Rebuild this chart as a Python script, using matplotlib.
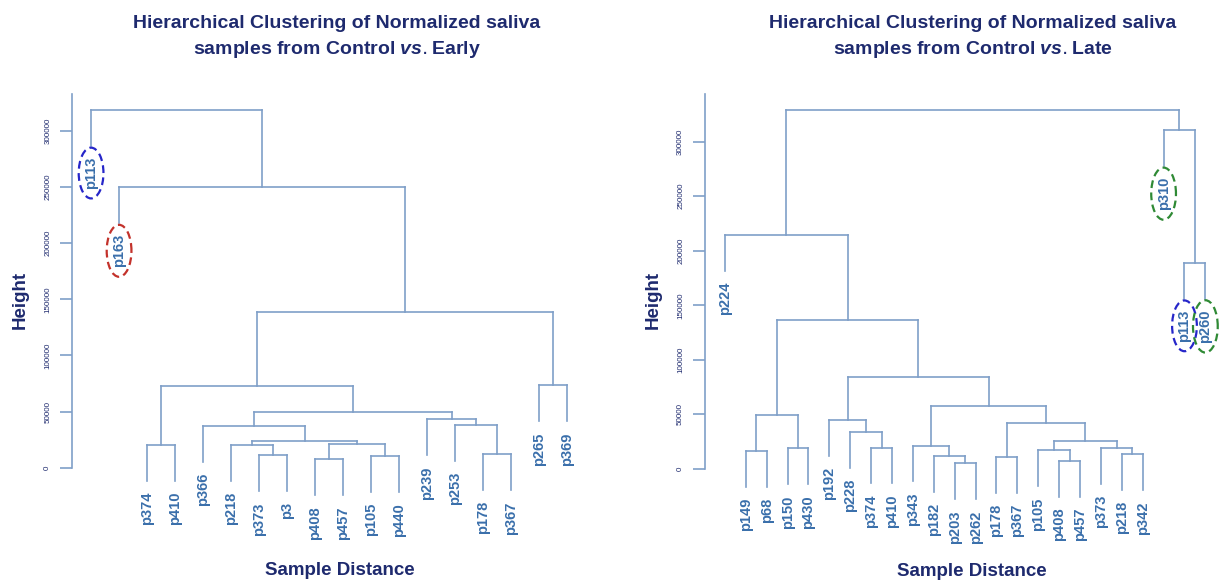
import matplotlib.pyplot as plt
import numpy as np

plt.rcParams['font.family'] = ['Liberation Sans', 'DejaVu Sans']
plt.rcParams['mathtext.fontset'] = 'custom'
plt.rcParams['mathtext.it'] = 'Liberation Sans:italic:bold'

LINE = '#7f9fc8'
LEAF = '#3a6fab'
NAVY = '#1e2a6e'

# --- Control vs. Early -------------------------------------------------
# leaves in plotting order; merge rows follow hclust: -k is leaf k, +k is row k
early_labels = ['p113', 'p163', 'p374', 'p410', 'p366', 'p218', 'p373', 'p3',
                'p408', 'p457', 'p105', 'p440', 'p239', 'p253', 'p178', 'p367',
                'p265', 'p369']
early_merge = [(-9, -10), (-11, -12), (-7, -8), (-15, -16), (-3, -4), (-6, 3),
               (1, 2), (6, 7), (-5, 8), (-14, 4), (-13, 10), (9, 11), (5, 12),
               (-17, -18), (13, 14), (-2, 15), (-1, 16)]
early_height = [7500, 10400, 11000, 11900, 20200, 20000, 21400, 24000, 37100,
                38000, 43100, 49600, 72800, 73400, 138500, 249800, 318700]
early_rings = {'p113': '#2626c9', 'p163': '#c3322b'}

# --- Control vs. Late --------------------------------------------------
late_labels = ['p224', 'p149', 'p68', 'p150', 'p430', 'p192', 'p228', 'p374',
               'p410', 'p343', 'p182', 'p203', 'p262', 'p178', 'p367', 'p105',
               'p408', 'p457', 'p373', 'p218', 'p342', 'p310', 'p113', 'p260']
late_merge = [(-12, -13), (-17, -18), (-14, -15), (-11, 1), (-20, -21), (-2, -3),
              (-16, 2), (-4, -5), (-19, 5), (-8, -9), (-10, 4), (7, 9), (-7, 10),
              (3, 12), (-6, 13), (6, 8), (11, 14), (15, 17), (16, 18),
              (-23, -24), (-1, 19), (-22, 20), (21, 22)]
late_height = [5200, 7600, 11300, 12200, 13500, 16800, 17100, 19000, 19500,
               19600, 21400, 25700, 34200, 41900, 44900, 49500, 57700, 84000,
               136600, 189100, 214500, 310700, 329000]
late_rings = {'p310': '#2f8a35', 'p113': '#2626c9', 'p260': '#2f8a35'}

yticks = [0, 50000, 100000, 150000, 200000, 250000, 300000]


def dendrogram(ax, labels, merge, height, rings, hang=0.1):
    drop = hang * max(height)
    node_x = {}
    leaf_y = {}
    for k, (a, b) in enumerate(merge, start=1):
        h = height[k - 1]
        xs = []
        for c in (a, b):
            if c < 0:
                x, y0 = -c, h - drop
                leaf_y[-c] = y0
            else:
                x, y0 = node_x[c], height[c - 1]
            ax.plot([x, x], [y0, h], color=LINE, lw=1.2, clip_on=False)
            xs.append(x)
        ax.plot(xs, [h, h], color=LINE, lw=1.2, clip_on=False)
        node_x[k] = np.mean(xs)

    for i, lab in enumerate(labels, start=1):
        box = None
        if lab in rings:
            box = dict(boxstyle='ellipse,pad=0.12', fc='none', ec=rings[lab],
                       lw=1.6, ls=(0, (3.5, 2)))
        ax.annotate(lab, (i, leaf_y[i]), xytext=(0, -8), textcoords='offset points',
                    rotation=90, ha='center', va='top', color=LEAF,
                    fontsize=10.5, fontweight='bold', bbox=box)


fig = plt.figure(figsize=(12.19, 5.83), dpi=100)
ax1 = fig.add_axes([0.0591, 0.1208, 0.4221, 0.7412])
ax2 = fig.add_axes([0.5783, 0.1208, 0.4208, 0.7204])

dendrogram(ax1, early_labels, early_merge, early_height, early_rings)
dendrogram(ax2, late_labels, late_merge, late_height, late_rings)

ax1.set_xlim(0.32, 18.7)
ax2.set_xlim(0.043, 24.6)

for ax, top, xlab, ylab in [(ax1, 333000, (0.521, -0.133), (-0.10, 0.492)),
                            (ax2, 344000, (0.520, -0.141), (-0.10, 0.506))]:
    ax.set_ylim(-40000, 345000)
    for side in ['top', 'right', 'bottom']:
        ax.spines[side].set_visible(False)
    ax.spines['left'].set_color(LINE)
    ax.spines['left'].set_linewidth(1.2)
    ax.spines['left'].set_bounds(0, top)
    ax.set_xticks([])
    ax.set_yticks(yticks)
    ax.set_yticklabels([str(t) for t in yticks])
    ax.tick_params(axis='y', length=9, width=1.2, color=LINE, labelcolor=NAVY,
                   labelsize=5.8, labelrotation=90, pad=6)
    for t in ax.get_yticklabels():
        t.set_va('center')
    ax.set_ylabel('Height', fontsize=13.5, fontweight='bold', color=NAVY, va='center')
    ax.yaxis.set_label_coords(*ylab)
    ax.set_xlabel('Sample Distance', fontsize=13.5, fontweight='bold', color=NAVY,
                  va='center')
    ax.xaxis.set_label_coords(*xlab)
    ax.patch.set_alpha(0)

fig.text(0.2765, 0.936,
         'Hierarchical Clustering of Normalized saliva\nsamples from Control $\\mathit{vs.}$Early',
         ha='center', va='center', fontsize=14, fontweight='bold', color=NAVY,
         linespacing=1.45)
fig.text(0.798, 0.936,
         'Hierarchical Clustering of Normalized saliva\nsamples from Control $\\mathit{vs.}$Late',
         ha='center', va='center', fontsize=14, fontweight='bold', color=NAVY,
         linespacing=1.45)

fig.savefig('out.png', dpi=100)
